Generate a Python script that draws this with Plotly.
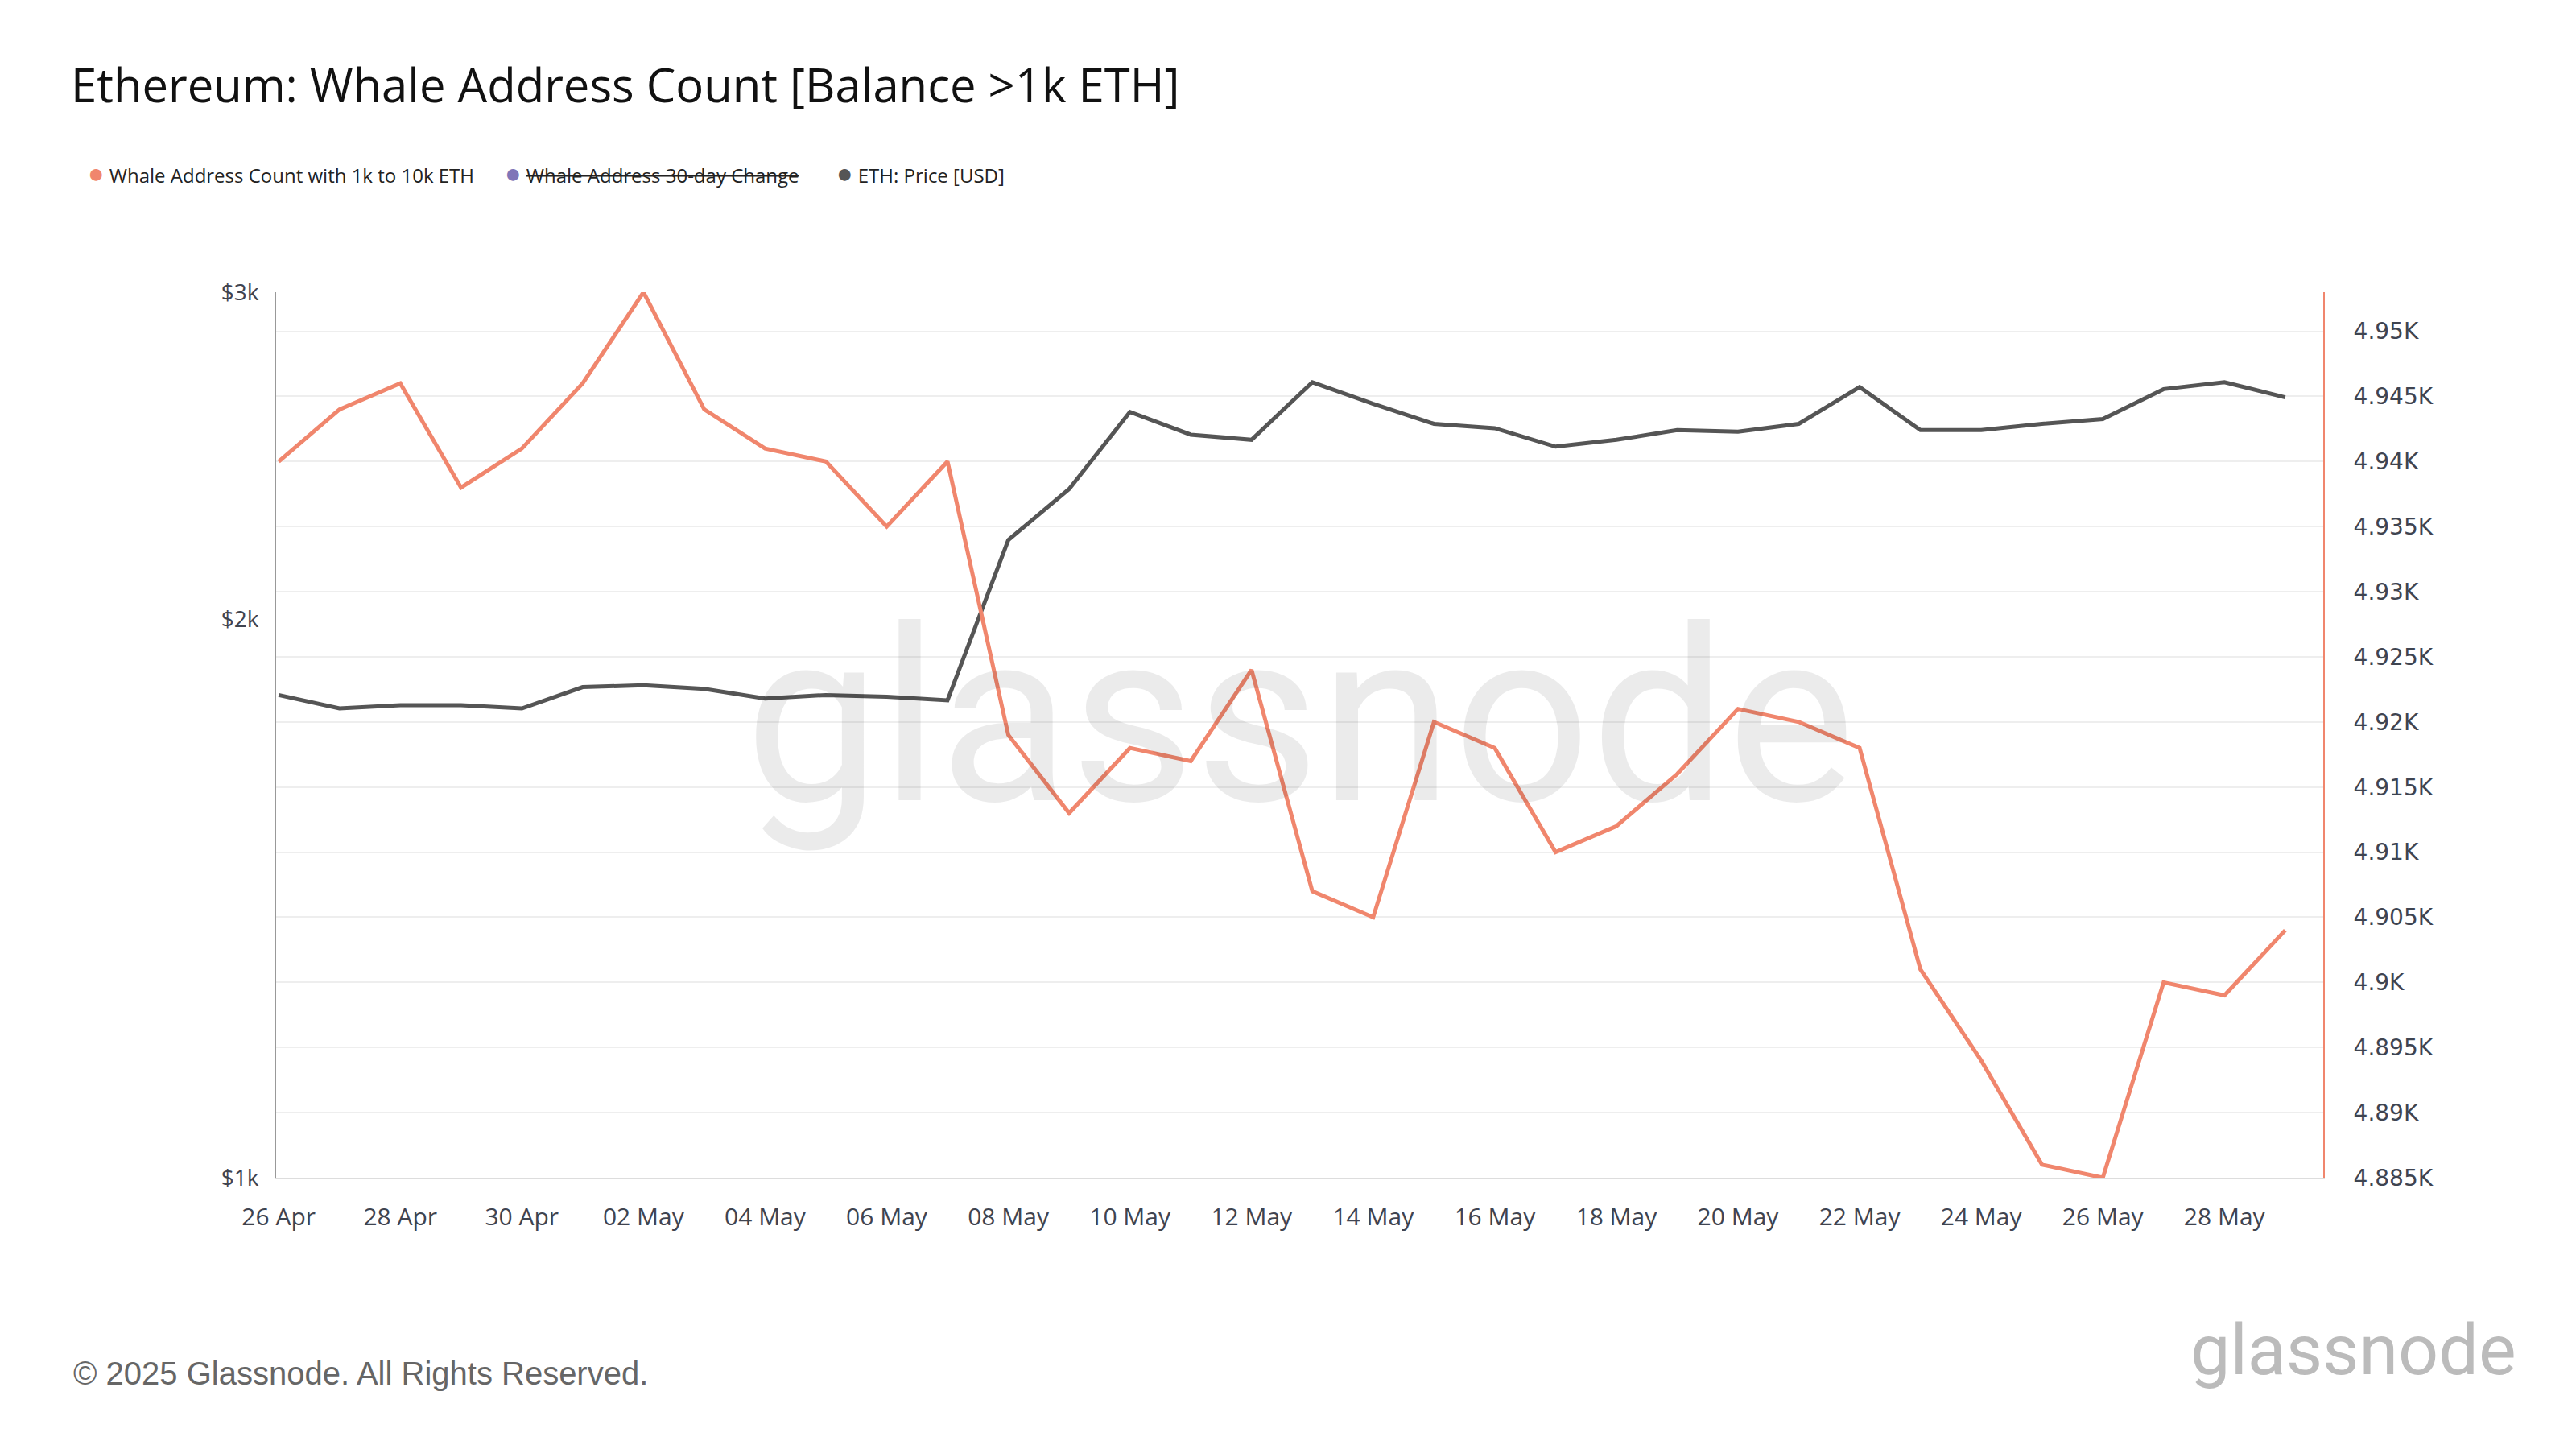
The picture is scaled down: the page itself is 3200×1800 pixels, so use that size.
import pandas as pd
import plotly.graph_objects as go

dates = pd.date_range("2025-04-26", "2025-05-29", freq="D")

whale_count = [4940, 4944, 4946, 4938, 4941, 4946, 4953, 4944, 4941, 4940, 4935, 4940,
               4919, 4913, 4918, 4917, 4924, 4907, 4905, 4920, 4918, 4910, 4912, 4916,
               4921, 4920, 4918, 4901, 4894, 4886, 4885, 4900, 4899, 4904]

eth_price = [1820, 1790, 1797, 1797, 1790, 1838, 1842, 1834, 1812, 1820, 1816, 1808,
             2206, 2350, 2586, 2514, 2498, 2683, 2612, 2548, 2534, 2477, 2498, 2528,
             2523, 2548, 2667, 2528, 2528, 2548, 2563, 2660, 2683, 2633]

left_ticks = [1000, 2000, 3000]
left_labels = ["$1k", "$2k", "$3k"]
right_ticks = list(range(4885, 4951, 5))
right_labels = [f"{v/1000:g}K" for v in right_ticks]

fig = go.Figure()
fig.add_trace(go.Scatter(x=dates, y=eth_price, mode="lines", name="ETH: Price [USD]",
                         line=dict(color="#555555", width=5), yaxis="y"))
fig.add_trace(go.Scatter(x=dates, y=whale_count, mode="lines",
                         name="Whale Address Count with 1k to 10k ETH",
                         line=dict(color="#f0866d", width=5), yaxis="y2"))

fig.update_layout(
    width=3200, height=1800,
    paper_bgcolor="white", plot_bgcolor="white",
    margin=dict(l=335, r=322, t=355, b=345),
    showlegend=False,
    font=dict(family="Open Sans", color="#3f4450"),
    title=dict(text="Ethereum: Whale Address Count [Balance >1k ETH]", x=0.025, xanchor="left",
               y=0.945, yanchor="middle", font=dict(size=58, color="#111111", family="Open Sans")),
    xaxis=dict(tickformat="%d %b", dtick=2 * 86400000, tick0="2025-04-26",
               range=["2025-04-25 23:00", "2025-05-29 15:00"], showgrid=False,
               ticks="", showline=True, ticklabelstandoff=22,
               linecolor="#dddddd", tickfont=dict(size=30)),
    yaxis=dict(type="log", range=[3, 3.4771], tickvals=left_ticks, ticktext=left_labels,
               showgrid=False, showline=True, linecolor="#999999", linewidth=2,
               tickfont=dict(size=28), ticklabelstandoff=14),
    yaxis2=dict(overlaying="y", side="right", range=[4885, 4953], tickvals=right_ticks,
                ticktext=right_labels, showgrid=True, gridcolor="#eeeeee", gridwidth=2,
                showline=True, linecolor="#f0866d", linewidth=2,
                tickfont=dict(size=28, family="DejaVu Sans"), ticklabelstandoff=30),
)

# watermark
fig.add_annotation(text="glassnode", xref="paper", yref="paper", x=0.5, y=0.52,
                   showarrow=False, font=dict(size=300, color="rgba(0,0,0,0.08)", family="Roboto"))

# legend drawn as text
legend = [
    (-0.093, "<span style='color:#f0866d;font-size:34px'>●</span> Whale Address Count with 1k to 10k ETH"),
    (0.111, "<span style='color:#7f76b8;font-size:34px'>●</span> <span style='text-decoration:line-through'>Whale Address 30-day Change</span>"),
    (0.273, "<span style='color:#555555;font-size:34px'>●</span> ETH: Price [USD]"),
]
for x, t in legend:
    fig.add_annotation(text=t, xref="paper", yref="paper", x=x, y=1.158, xanchor="left",
                       showarrow=False, font=dict(size=24, color="#222222", family="Open Sans"))

fig.add_annotation(text="© 2025 Glassnode. All Rights Reserved.", xref="paper", yref="paper",
                   x=-0.1, y=-0.243, xanchor="left", showarrow=False,
                   font=dict(size=40, color="#666666", family="Liberation Sans"))
fig.add_annotation(text="glassnode", xref="paper", yref="paper", x=1.095, y=-0.243, xanchor="right",
                   showarrow=False, font=dict(size=88, color="#bbbbbb", family="Roboto"))

fig.write_html("out.html")
